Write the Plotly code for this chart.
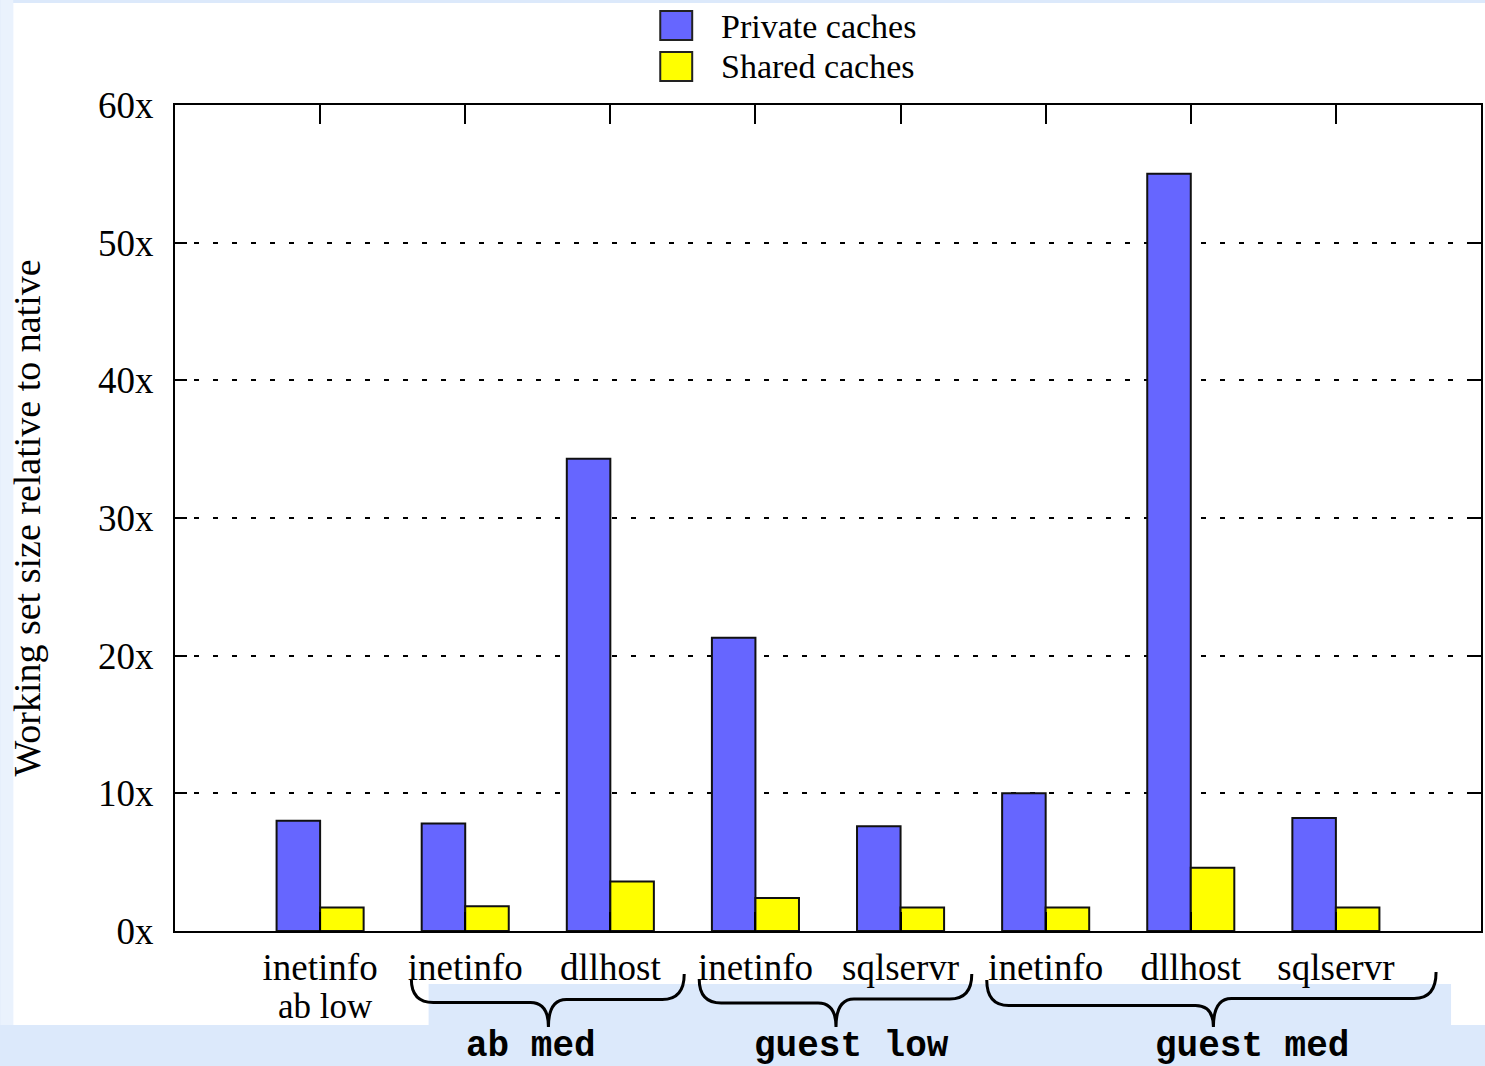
import plotly.graph_objects as go

# Working-set size of each process relative to native execution
processes = ["inetinfo", "inetinfo", "dllhost", "inetinfo", "sqlservr",
             "inetinfo", "dllhost", "sqlservr"]
private_caches = [8.0, 7.8, 34.3, 21.3, 7.6, 10.0, 55.0, 8.2]
shared_caches = [1.7, 1.8, 3.6, 2.4, 1.7, 1.7, 4.6, 1.7]
y_ticks = [0, 10, 20, 30, 40, 50, 60]

PRIVATE_COLOR = "#6666ff"
SHARED_COLOR = "#ffff00"
SERIF = "Liberation Serif"
MONO = "Liberation Mono"

W, H = 1485, 1066
L, R, T, B = 175, 1483, 105, 931  # plot area in pixels


def px(x):
    """Pixel x -> paper x."""
    return (x - L) / (R - L)


def py(y):
    """Pixel y (from top) -> paper y."""
    return (B - y) / (B - T)


def brace_path(xl, ytl, yhl, xm, ym, yhr, xr, ytr, r=22, r2=18):
    """Downward curly brace from left tip to right tip, pointing at (xm, ym)."""
    pts = lambda x, y: f"{px(x):.5f},{py(y):.5f}"
    return (
        f"M{pts(xl, ytl)} Q{pts(xl, yhl)} {pts(xl + r, yhl)} "
        f"L{pts(xm - r2, yhl)} Q{pts(xm, yhl)} {pts(xm, ym)} "
        f"Q{pts(xm, yhr)} {pts(xm + r2, yhr)} "
        f"L{pts(xr - r, yhr)} Q{pts(xr, yhr)} {pts(xr, ytr)}"
    )


positions = list(range(1, len(processes) + 1))

fig = go.Figure()
fig.add_trace(go.Bar(x=positions, y=private_caches, name="Private caches",
                     marker=dict(color=PRIVATE_COLOR, line=dict(color="#111111", width=2))))
fig.add_trace(go.Bar(x=positions, y=shared_caches, name="Shared caches",
                     marker=dict(color=SHARED_COLOR, line=dict(color="#111111", width=2))))

shapes = [
    # page background panels
    dict(type="rect", xref="paper", yref="paper", x0=px(0), x1=px(13), y0=py(1025), y1=py(0),
         fillcolor="#eaf2fd", line_width=0, layer="below"),
    dict(type="rect", xref="paper", yref="paper", x0=px(13), x1=px(W + 5), y0=py(1025), y1=py(3),
         fillcolor="white", line_width=0, layer="below"),
    dict(type="rect", xref="paper", yref="paper", x0=px(429), x1=px(1453), y0=py(1025), y1=py(984),
         fillcolor="#dce9fb", line_width=0, layer="below"),
]

# legend swatches
for i, color in enumerate([PRIVATE_COLOR, SHARED_COLOR]):
    y0 = 11 + i * 41
    shapes.append(dict(type="rect", xref="paper", yref="paper",
                       x0=px(661), x1=px(693), y0=py(y0 + 29), y1=py(y0),
                       fillcolor=color, line=dict(color="#222222", width=2)))

# group braces
brace_geom = {
    "ab med": (411.7, 979, 1002.5, 549, 1027, 999.5, 685, 974),
    "guest low": (700, 979, 1003, 837, 1027, 999, 973, 974),
    "guest med": (988, 980, 1005.5, 1215, 1027, 998.5, 1438, 972),
}
for name, g in brace_geom.items():
    shapes.append(dict(type="path", xref="paper", yref="paper", path=brace_path(*g),
                       line=dict(color="black", width=3)))

annotations = [
    dict(text="Private caches", x=px(720), y=py(26), xref="paper", yref="paper",
         xanchor="left", yanchor="middle", showarrow=False,
         font=dict(family=SERIF, size=34, color="black")),
    dict(text="Shared caches", x=px(720), y=py(67), xref="paper", yref="paper",
         xanchor="left", yanchor="middle", showarrow=False,
         font=dict(family=SERIF, size=34, color="black")),
    # second line under the first process label
    dict(text="ab low", x=1, y=py(1006), xref="x", yref="paper", xshift=5,
         xanchor="center", yanchor="middle", showarrow=False,
         font=dict(family=SERIF, size=35, color="black")),
]
group_label_x = {"ab med": 532, "guest low": 853, "guest med": 1254}
for name, xpix in group_label_x.items():
    annotations.append(dict(text=f"<b>{name}</b>", x=px(xpix), y=py(1046),
                            xref="paper", yref="paper", xanchor="center", yanchor="middle",
                            showarrow=False, font=dict(family=MONO, size=36, color="black")))

fig.update_layout(
    width=W, height=H,
    margin=dict(l=L, r=W - R, t=T, b=H - B, pad=0),
    paper_bgcolor="#dce9fb",
    plot_bgcolor="white",
    barmode="group",
    bargap=0.4,
    bargroupgap=0,
    showlegend=False,
    font=dict(family=SERIF, size=37, color="black"),
    shapes=shapes,
    annotations=annotations,
    xaxis=dict(
        range=[0, len(processes) + 1],
        tickmode="array", tickvals=positions, ticktext=processes,
        ticks="inside", ticklen=19, tickwidth=2, tickcolor="black",
        showline=True, linecolor="black", linewidth=2, mirror="ticks",
        showgrid=False, zeroline=False,
        ticklabelstandoff=3,
        tickfont=dict(family=SERIF, size=37, color="black"),
    ),
    yaxis=dict(
        range=[0, 60],
        tickmode="array", tickvals=y_ticks, ticktext=[f"{v}x" for v in y_ticks],
        ticks="inside", ticklen=12, tickwidth=2, tickcolor="black",
        showline=True, linecolor="black", linewidth=2, mirror="ticks",
        showgrid=True, gridcolor="black", gridwidth=1.5, griddash="5px,14px",
        zeroline=False,
        ticklabelstandoff=12,
        tickfont=dict(family=SERIF, size=37, color="black"),
        title=dict(text="Working set size relative to native", standoff=46,
                   font=dict(family=SERIF, size=38, color="black")),
    ),
)

fig.write_html("out.html")
